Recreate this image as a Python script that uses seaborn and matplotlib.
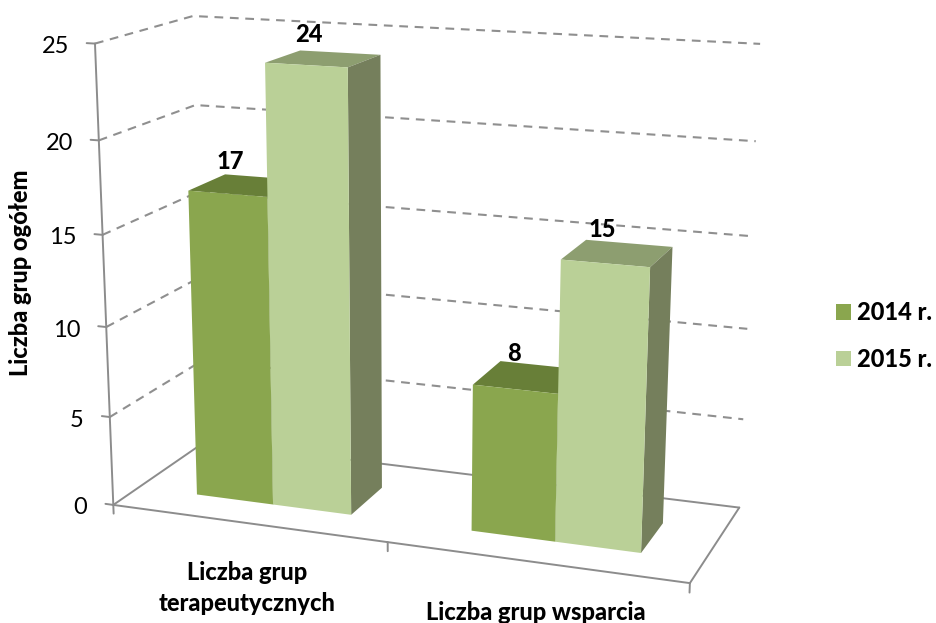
import numpy as np
import pandas as pd
import matplotlib
matplotlib.use("Agg")
import matplotlib.pyplot as plt
from matplotlib.transforms import Transform
import seaborn as sns

# chart values
categories = ["Liczba grup\nterapeutycznych", "Liczba grup wsparcia"]
years = ["2014 r.", "2015 r."]
values_2014 = [17, 8]
values_2015 = [24, 15]
y_ticks = [0, 5, 10, 15, 20, 25]

W, H = 936, 623

# colours of the three visible faces per year
front_cols = {"2014 r.": "#8AA64E", "2015 r.": "#BAD097"}
top_cols = {"2014 r.": "#687F38", "2015 r.": "#8D9E70"}
side_cols = {"2014 r.": "#667A3A", "2015 r.": "#757F5C"}
line_col = "#8C8C8C"
dash_col = "#8F8F8F"

# depth of the bars inside the box, 0 = front of floor, 1 = back wall
Z0, Z1 = 0.27, 0.67
BAR_SHIFT = 0.008

# camera fit: box corners (x, value, depth) -> pixel in the picture
box_pts = [(-.5, 0, 0), (-.5, 25, 0), (-.5, 20, 0), (1.5, 0, 0), (-.5, 0, 1), (-.5, 25, 1),
           (-.5, 20, 1), (1.5, 0, 1), (1.5, 25, 1), (1.5, 15, 1), (1.5, 5, 1)]
pix_pts = [(113, 505), (95, 44), (99, 140), (690, 583), (205, 442), (193, 16),
           (195, 105), (739, 508), (760, 44), (752, 236), (743, 419)]
rows = []
rhs = []
for (a, b, c), (u, v) in zip(box_pts, pix_pts):
    rows.append([a, b, c, 1, 0, 0, 0, 0, -u * a, -u * b, -u * c])
    rows.append([0, 0, 0, 0, a, b, c, 1, -v * a, -v * b, -v * c])
    rhs += [u, v]
cam = np.append(np.linalg.lstsq(np.array(rows, float), np.array(rhs, float), rcond=None)[0], 1).reshape(3, 4)


class Proj(Transform):
    # (x, value) at a fixed depth -> display pixels
    input_dims = 2
    output_dims = 2
    is_separable = False
    has_inverse = False

    def __init__(self, z):
        super().__init__()
        self.z = z

    def transform_non_affine(self, values):
        values = np.asarray(values, float).reshape(-1, 2)
        n = len(values)
        pts = np.column_stack([values[:, 0], values[:, 1], np.full(n, self.z), np.ones(n)])
        p = pts @ cam.T
        return np.column_stack([p[:, 0] / p[:, 2], H - p[:, 1] / p[:, 2]])


def pt(x, y, z):
    return Proj(z).transform_non_affine([[x, y]])[0]


df = pd.DataFrame({
    "kategoria": categories * 2,
    "rok": [years[0]] * 2 + [years[1]] * 2,
    "liczba": values_2014 + values_2015,
})

sns.set_style("white")
plt.rcParams["font.family"] = ["Lato", "DejaVu Sans"]
plt.rcParams["text.color"] = "black"

fig = plt.figure(figsize=(W / 100, H / 100), dpi=100)
ax = fig.add_axes([0, 0, 1, 1])

sns.barplot(data=df, x="kategoria", y="liczba", hue="rok", palette=front_cols, saturation=1,
            width=0.573, gap=0, linewidth=0, ax=ax, zorder=5)
ax.set_xlim(-0.5, 1.5)
ax.set_ylim(0, 25)
ax.set_axis_off()

front = Proj(0)
back = Proj(1)

# floor and axis lines
solid = dict(color=line_col, lw=1.4, clip_on=False, zorder=1)
ax.plot([-.5, 1.5], [0, 0], transform=front, **solid)
ax.plot([-.5, 1.5], [0, 0], transform=back, **solid)
ax.plot([-.5, -.5], [0, 25], transform=front, **solid)
for a in [(-.5, 0), (1.5, 0)]:
    p0, p1 = pt(a[0], a[1], 0), pt(a[0], a[1], 1)
    ax.plot([p0[0], p1[0]], [p0[1], p1[1]], transform=None, **solid)
for x in [-.5, .5, 1.5]:
    ax.plot([x, x], [0, -0.5], transform=front, **solid)

# grid on left and back wall, tick marks and tick labels
for v in y_ticks:
    ax.plot([-.5, -.53], [v, v], transform=front, **solid)
    ax.annotate(str(v), xy=(-.5, v), xycoords=front, xytext=(-26, -3), textcoords="offset pixels",
                ha="right", va="center", fontsize=17, color="black", annotation_clip=False)
    if v == 0:
        continue
    a, b, c = pt(-.5, v, 0), pt(-.5, v, 1), pt(1.5, v, 1)
    ax.plot([a[0], b[0], c[0]], [a[1], b[1], c[1]], transform=None, color=dash_col, lw=1.5,
            ls=(0, (4.2, 3.2)), clip_on=False, zorder=0.5)

# the bars: seaborn gives the front faces, top and side are built from them
for year, container in zip(years, ax.containers):
    for bar in container:
        bar.set_x(bar.get_x() + BAR_SHIFT)
        x0, x1, h = bar.get_x(), bar.get_x() + bar.get_width(), bar.get_height()
        bar.set_transform(Proj(Z0))
        bar.set_clip_on(False)
        top = [pt(x0, h, Z0), pt(x1, h, Z0), pt(x1, h, Z1), pt(x0, h, Z1)]
        side = [pt(x1, 0, Z0), pt(x1, h, Z0), pt(x1, h, Z1), pt(x1, 0, Z1)]
        ax.fill(*zip(*top), color=top_cols[year], transform=None, clip_on=False, zorder=2, lw=0)
        ax.fill(*zip(*side), color=side_cols[year], transform=None, clip_on=False, zorder=2, lw=0)
        # value label above the top face
        c = np.mean(top, axis=0)
        ax.annotate(f"{h:.0f}", xy=(c[0], c[1]), xycoords="figure pixels", xytext=(-15, 24),
                    textcoords="offset pixels", ha="center", va="center", fontsize=17,
                    fontweight=900, color="black", zorder=6, annotation_clip=False)

# texts
ax.text(247 / W, 1 - 588 / H, categories[0], transform=fig.transFigure, ha="center", va="center",
        fontsize=17, fontweight=900, linespacing=1.45)
ax.text(536 / W, 1 - 613 / H, categories[1], transform=fig.transFigure, ha="center", va="center",
        fontsize=17, fontweight=900)
ax.text(21 / W, 1 - 273 / H, "Liczba grup ogółem", transform=fig.transFigure, rotation=90,
        ha="center", va="center", fontsize=17, fontweight=900)

handles, labels = ax.get_legend_handles_labels()
ax.legend(handles, labels, loc="center left", bbox_to_anchor=(836 / W, 1 - 336 / H),
          bbox_transform=fig.transFigure, frameon=False, prop={"size": 17, "weight": 900},
          handlelength=0.62, handleheight=0.62, handletextpad=0.29, labelspacing=1.0,
          borderpad=0, borderaxespad=0)

fig.savefig("out.png", dpi=100, facecolor="white")
